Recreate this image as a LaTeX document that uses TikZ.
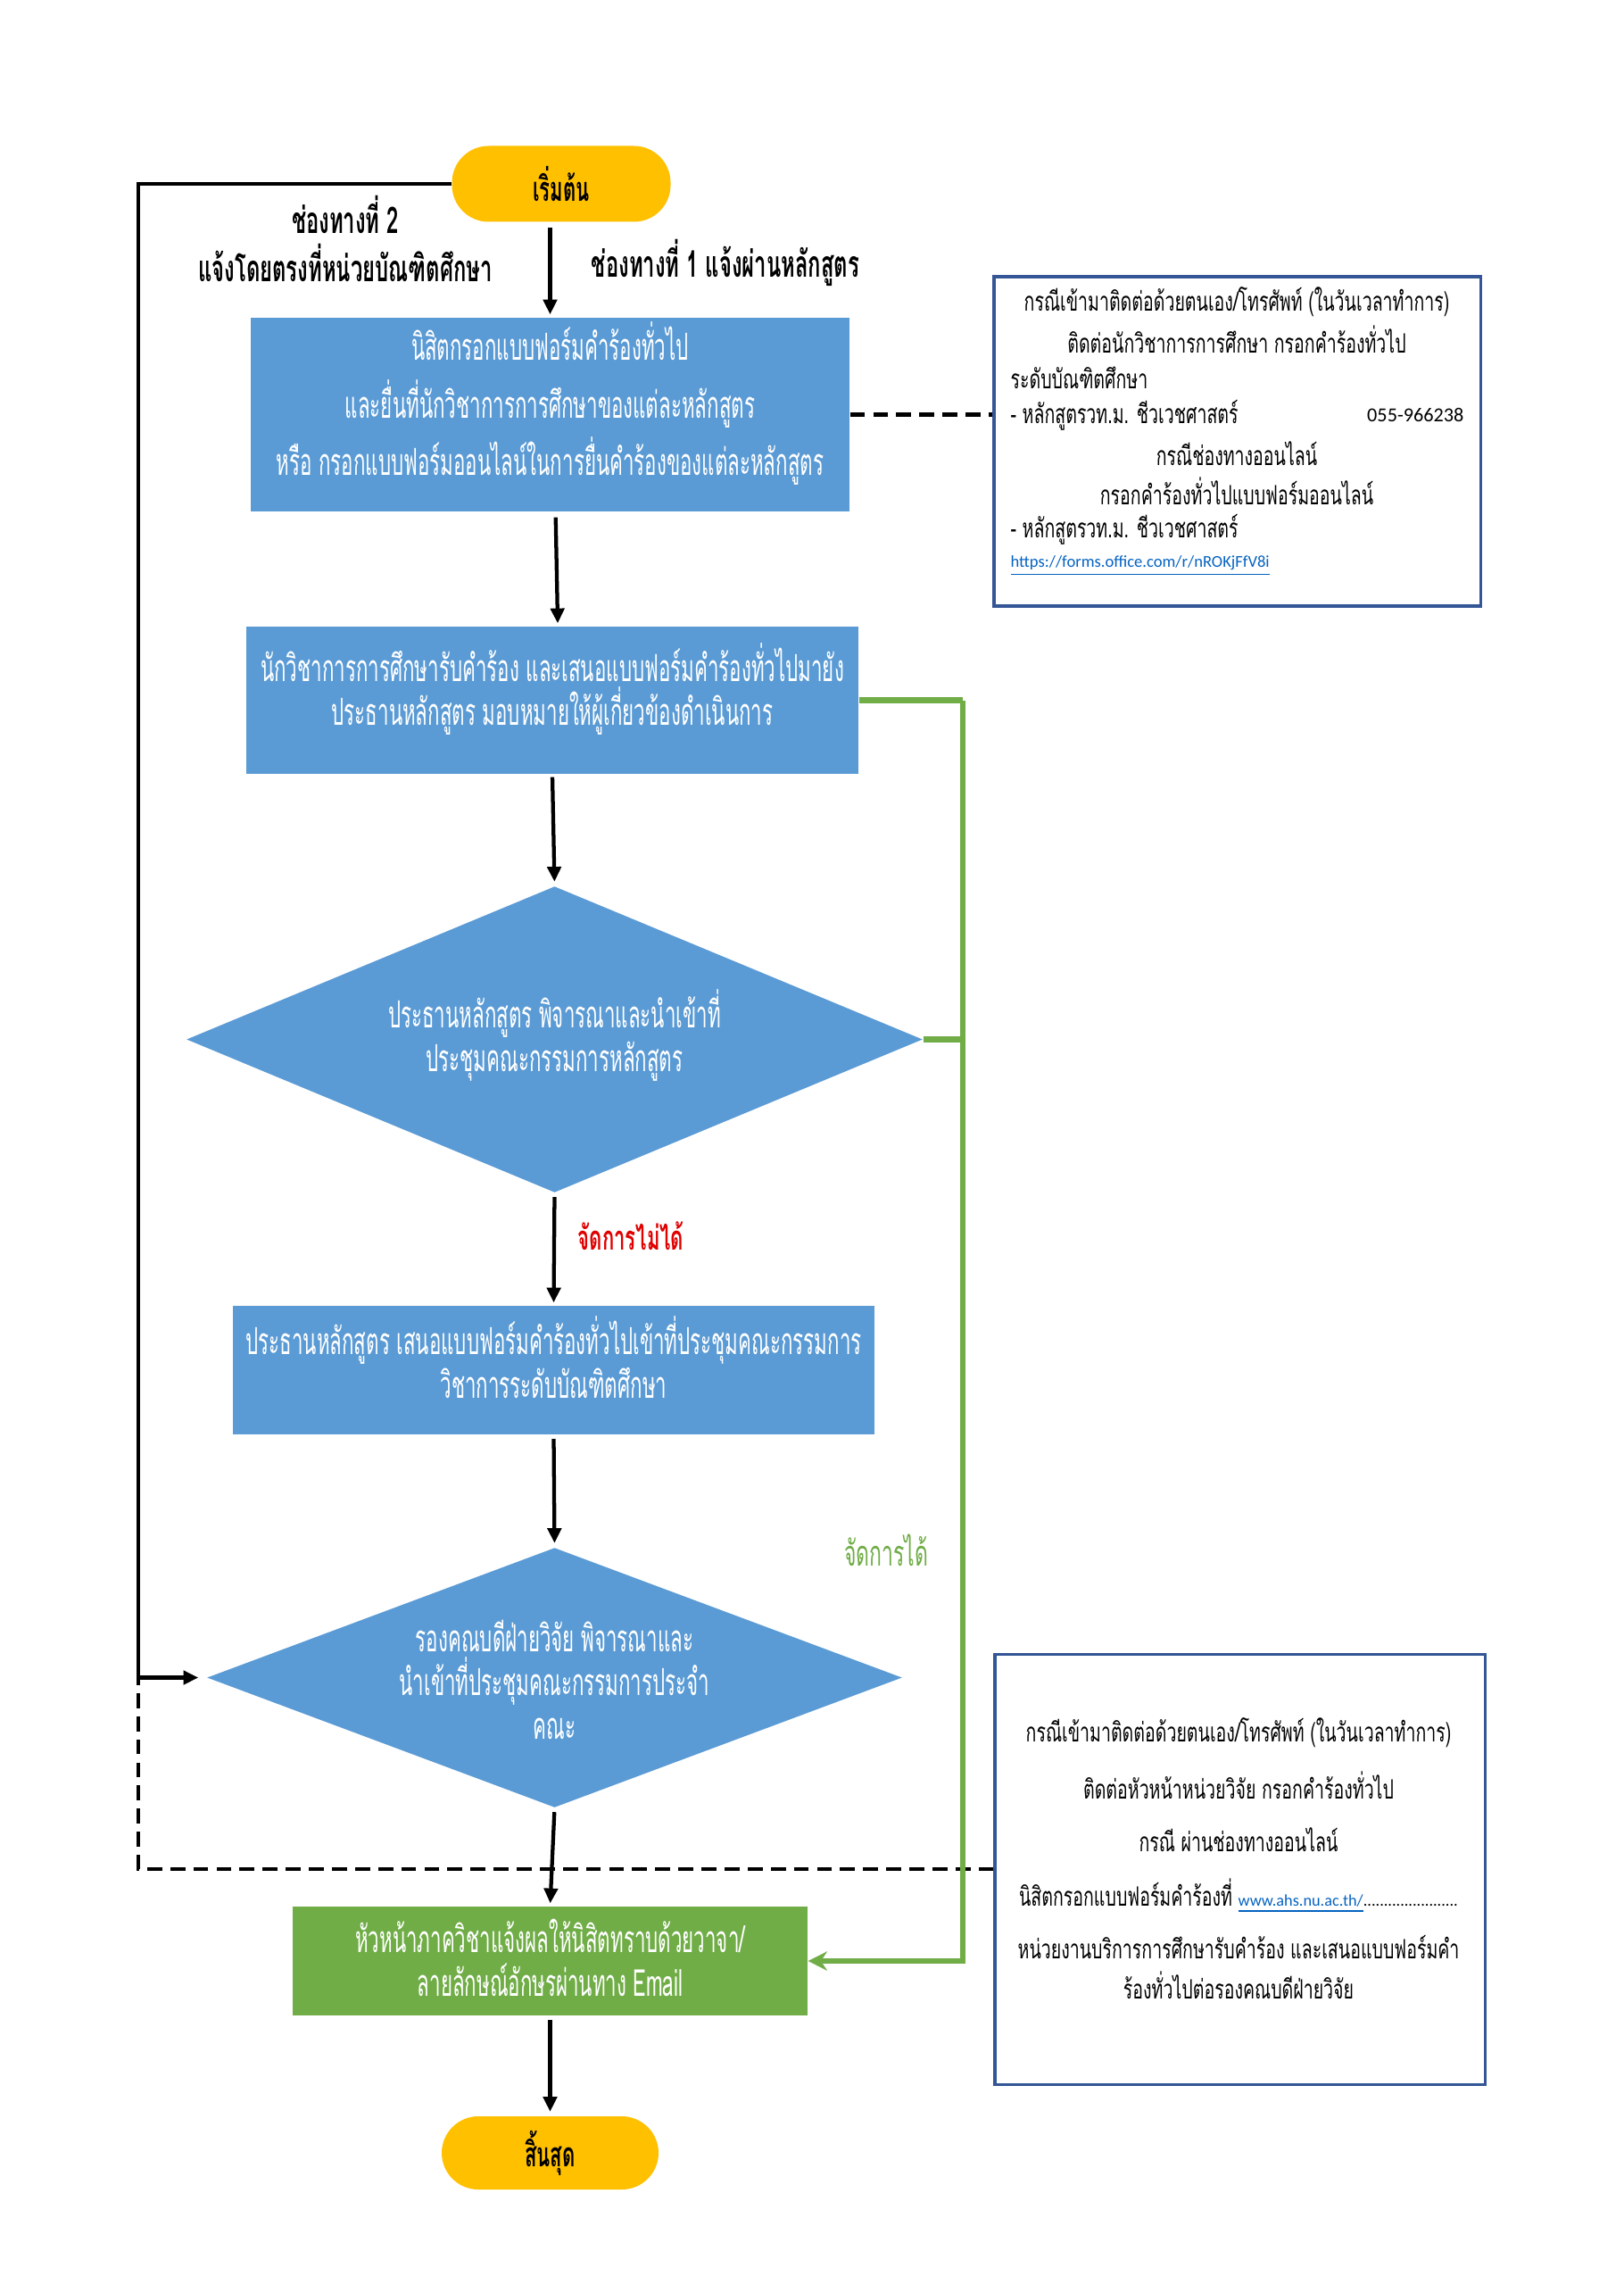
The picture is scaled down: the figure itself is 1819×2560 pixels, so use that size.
\documentclass[tikz,border=0pt]{standalone}
\usepackage{fontspec}
\newfontfamily\thaicond[Script=Thai,FakeStretch=0.535]{Loma}
\newfontfamily\thailbl[Script=Thai,FakeStretch=0.58]{Loma}
\newfontfamily\thaiinfo[Script=Thai,FakeStretch=0.655]{Loma}
\newfontfamily\latinfo{Carlito}
\usetikzlibrary{arrows.meta,shapes.geometric}
\def\pxu{0.3284pt}
\definecolor{boxblue}{RGB}{91,155,213}
\definecolor{boxgreen}{RGB}{112,173,71}
\definecolor{termyellow}{RGB}{255,192,0}
\definecolor{infoframe}{RGB}{52,86,150}
\definecolor{nored}{RGB}{224,0,0}
\definecolor{linkblue}{RGB}{5,99,193}
\tikzset{
  term/.style={rectangle, rounded corners=13.5pt, fill=termyellow, inner sep=0pt,
    font=\thailbl\bfseries\fontsize{12.5}{15}\selectfont},
  proc/.style={rectangle, fill=boxblue, inner sep=0pt},
  gproc/.style={rectangle, fill=boxgreen, inner sep=0pt},
  dec/.style={diamond, fill=boxblue, inner sep=0pt},
  infobox/.style={rectangle, draw=infoframe, line width=1pt, inner sep=0pt},
  boxtxt/.style={text=white, align=center, inner sep=0pt,
    font=\thaicond\fontsize{13.7}{16}\selectfont},
  infotxt/.style={inner sep=0pt, font=\thaiinfo\fontsize{9.8}{12}\selectfont},
  lbl/.style={inner sep=0pt, font=\thailbl\bfseries\fontsize{13.5}{17}\selectfont},
  arr/.style={line width=1.4pt, -{Triangle[length=5.5pt,width=5pt]}},
  garr/.style={line width=2pt, draw=boxgreen, -{Stealth[length=7pt,width=7pt]}},
  gline/.style={line width=2pt, draw=boxgreen},
  dline/.style={line width=1.6pt, dash pattern=on 5.5pt off 3pt}
}
\begin{document}
\begin{tikzpicture}[x=0.3284pt, y=-0.3284pt]
\fill[white] (0,0) rectangle (1819,2560);
\useasboundingbox (0,0) rectangle (1819,2560);

% main nodes
\node[term, minimum width=245*\pxu, minimum height=85*\pxu] (start) at (629,206) {เริ่มต้น};
\node[proc, minimum width=671*\pxu, minimum height=217*\pxu] (box1) at (616.5,464.5) {};
\node[proc, minimum width=686*\pxu, minimum height=165*\pxu] (box2) at (619,784.5) {};
\node[dec, minimum width=825*\pxu, minimum height=343*\pxu] (d1) at (621.5,1164.5) {};
\node[proc, minimum width=719*\pxu, minimum height=144*\pxu] (box3) at (620.5,1535) {};
\node[dec, minimum width=779*\pxu, minimum height=291*\pxu] (d2) at (621.5,1879.5) {};
\node[gproc, minimum width=577*\pxu, minimum height=122*\pxu] (gbox) at (616.5,2197) {};
\node[term, minimum width=243*\pxu, minimum height=82*\pxu] (end) at (616.5,2412) {สิ้นสุด};
\node[infobox, minimum width=545*\pxu, minimum height=369*\pxu] (info1) at (1386.5,494.5) {};
\node[infobox, minimum width=549*\pxu, minimum height=482*\pxu] (info2) at (1389.5,2094) {};

% texts of boxes
\node[boxtxt, font=\thaicond\fontsize{13.7}{21.3}\selectfont] (box1t) at (616.5,452) {นิสิตกรอกแบบฟอร์มคำร้องทั่วไป\\และยื่นที่นักวิชาการการศึกษาของแต่ละหลักสูตร\\หรือ กรอกแบบฟอร์มออนไลน์ในการยื่นคำร้องของแต่ละหลักสูตร};
\node[boxtxt] (box2t) at (619,772) {นักวิชาการการศึกษารับคำร้อง และเสนอแบบฟอร์มคำร้องทั่วไปมายัง\\ประธานหลักสูตร มอบหมายให้ผู้เกี่ยวข้องดำเนินการ};
\node[boxtxt] (d1t) at (621.5,1160) {ประธานหลักสูตร พิจารณาและนำเข้าที่\\ประชุมคณะกรรมการหลักสูตร};
\node[boxtxt] (box3t) at (620.5,1521) {ประธานหลักสูตร เสนอแบบฟอร์มคำร้องทั่วไปเข้าที่ประชุมคณะกรรมการ\\วิชาการระดับบัณฑิตศึกษา};
\node[boxtxt] (d2t) at (621.5,1882) {รองคณบดีฝ่ายวิจัย พิจารณาและ\\นำเข้าที่ประชุมคณะกรรมการประจำ\\คณะ};
\node[boxtxt] (gboxt) at (616.5,2193) {หัวหน้าภาควิชาแจ้งผลให้นิสิตทราบด้วยวาจา/\\ลายลักษณ์อักษรผ่านทาง Email};

% labels
\node[lbl] (lab2a) at (387,240) {ช่องทางที่ 2};
\node[lbl] (lab2b) at (387,294) {แจ้งโดยตรงที่หน่วยบัณฑิตศึกษา};
\node[lbl] (lab1) at (813,294) {ช่องทางที่ 1 แจ้งผ่านหลักสูตร};
\node[lbl, text=nored, font=\thailbl\bfseries\fontsize{12.5}{15}\selectfont] (lno) at (707,1385) {จัดการไม่ได้};
\node[lbl, text=boxgreen, font=\thailbl\fontsize{13}{15}\selectfont] (lyes) at (993,1737) {จัดการได้};

% info box 1 texts
\node[infotxt] (i1a) at (1386,338) {กรณีเข้ามาติดต่อด้วยตนเอง/โทรศัพท์ (ในวันเวลาทำการ)};
\node[infotxt] (i1b) at (1386,380) {ติดต่อนักวิชาการการศึกษา กรอกคำร้องทั่วไป};
\node[infotxt, anchor=west] (i1c) at (1132,423) {ระดับบัณฑิตศึกษา};
\node[infotxt, anchor=west] (i1d) at (1132,465) {- หลักสูตรวท.ม. ชีวเวชศาสตร์};
\node[infotxt, anchor=east, font=\latinfo\fontsize{7.3}{9}\selectfont] (i1e) at (1641,465) {055-966238};
\node[infotxt] (i1f) at (1386,508) {กรณีช่องทางออนไลน์};
\node[infotxt] (i1g) at (1386,550) {กรอกคำร้องทั่วไปแบบฟอร์มออนไลน์};
\node[infotxt, anchor=west] (i1h) at (1132,593) {- หลักสูตรวท.ม. ชีวเวชศาสตร์};
\node[infotxt, anchor=west, text=linkblue, font=\latinfo\fontsize{6.1}{8}\selectfont] (i1i) at (1132,634) {\underline{https://forms.office.com/r/nROKjFfV8i}};

% info box 2 texts
\node[infotxt] (i2a) at (1388,1941) {กรณีเข้ามาติดต่อด้วยตนเอง/โทรศัพท์ (ในวันเวลาทำการ)};
\node[infotxt] (i2b) at (1388,2000) {ติดต่อหัวหน้าหน่วยวิจัย กรอกคำร้องทั่วไป};
\node[infotxt] (i2c) at (1388,2061) {กรณี ผ่านช่องทางออนไลน์};
\node[infotxt] (i2d) at (1388,2124) {นิสิตกรอกแบบฟอร์มคำร้องที่ {\latinfo\fontsize{6}{8}\selectfont\textcolor{linkblue}{\underline{www.ahs.nu.ac.th/}}.......................}};
\node[infotxt] (i2e) at (1388,2181) {หน่วยงานบริการการศึกษารับคำร้อง และเสนอแบบฟอร์มคำ};
\node[infotxt] (i2f) at (1388,2224) {ร้องทั่วไปต่อรองคณบดีฝ่ายวิจัย};

% helper coordinates
\coordinate (lc) at (155,1879.5);
\coordinate (gx) at (1079,784.5);

% main flow arrows
\draw[arr, shorten <=2pt, shorten >=1pt] (start.south -| box1.north) -- (box1.north);
\draw[arr, shorten <=2pt, shorten >=1pt] ([xshift=2pt]box1.south) -- ([xshift=2pt]box2.north);
\draw[arr, shorten <=1pt, shorten >=1.5pt] (box2.south) -- (d1.north);
\draw[arr, shorten <=1.5pt, shorten >=1pt] (d1.south) -- (box3.north);
\draw[arr, shorten <=1.5pt, shorten >=1.5pt] (box3.south) -- (d2.north);
\draw[arr, shorten <=1.5pt, shorten >=1pt] (d2.south) -- (gbox.north);
\draw[arr, shorten <=1.5pt, shorten >=1.5pt] (gbox.south) -- (end.north);

% channel 2 line
\draw[arr, shorten >=3pt] (start.west) -| (lc) -- (d2.west);
% dashed connectors
\draw[dline] (box1.east) -- (box1.east -| info1.west);
\draw[dline] (info2.west) -| (lc);
% green connectors
\draw[gline] (box2.east) -- (gx);
\draw[gline] (d1.east) -- (d1.east -| gx);
\draw[garr] (gx) |- (gbox.east);
\end{tikzpicture}
\end{document}
